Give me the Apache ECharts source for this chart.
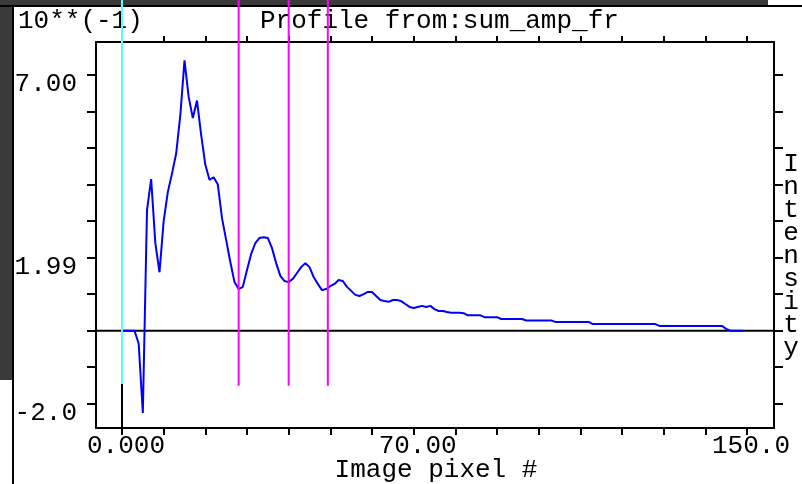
<!DOCTYPE html>
<html>
<head>
<meta charset="utf-8">
<script src="https://cdn.jsdelivr.net/npm/echarts@6/dist/echarts.min.js"></script>
<style>
  html, body { margin: 0; padding: 0; background: #ffffff; }
  #chart { width: 802px; height: 484px; }
</style>
</head>
<body>
<div id="chart"></div>
<script>
// ---- profile data (intensity in units of 10**(-1)), one value per image pixel from 0 ----
const intensity = [
  0, 0, 0, 0, -0.35, -2.25, 3.3, 4.15, 2.4, 1.6,
  3.0, 3.8, 4.3, 4.85, 5.9, 7.4, 6.4, 5.82, 6.3, 5.36,
  4.54, 4.13, 4.2, 4.0, 3.08, 2.48, 1.88, 1.33, 1.14, 1.2,
  1.66, 2.1, 2.4, 2.54, 2.56, 2.54, 2.26, 1.85, 1.5, 1.36,
  1.33, 1.42, 1.58, 1.74, 1.85, 1.74, 1.47, 1.28, 1.11, 1.14,
  1.22, 1.28, 1.39, 1.36, 1.2, 1.09, 0.98, 0.95, 1.0, 1.06,
  1.06, 0.95, 0.84, 0.81, 0.79, 0.84, 0.84, 0.81, 0.73, 0.65,
  0.62, 0.65, 0.68, 0.65, 0.68, 0.59, 0.54, 0.54, 0.51, 0.49,
  0.49, 0.49, 0.48, 0.42, 0.42, 0.42, 0.42, 0.37, 0.37, 0.37,
  0.37, 0.32, 0.32, 0.32, 0.32, 0.32, 0.32, 0.28, 0.28, 0.28,
  0.28, 0.28, 0.28, 0.28, 0.24, 0.24, 0.24, 0.24, 0.24, 0.24,
  0.24, 0.24, 0.24, 0.18, 0.18, 0.18, 0.18, 0.18, 0.18, 0.18,
  0.18, 0.18, 0.18, 0.18, 0.18, 0.18, 0.18, 0.18, 0.18, 0.13,
  0.13, 0.13, 0.13, 0.13, 0.13, 0.13, 0.13, 0.13, 0.13, 0.13,
  0.13, 0.13, 0.13, 0.13, 0.13, 0.05, 0, 0, 0, 0
];

// ---- axes ----
const xRange = [-6.24, 156.48];
const yRange = [-2.664, 7.903];
const xTickValues = [0, 10, 20, 30, 40, 50, 60, 70, 80, 90, 100, 110, 120, 130, 140, 150];
const xLabelValues = [0, 70, 150];
const xLabelTexts = ['0.000', '70.00', '150.0'];
const yTickValues = [-2, -1, 0, 1, 2, 3, 4, 5, 6, 7];
const yLabelValues = [7, 1.99, -2];
const yLabelTexts = ['7.00', '1.99', '-2.0'];

// ---- cursors: [pixel, lower end]; they run up to the window edge ----
const cursorTop = 9.6;
const cursors = [
  [0, -1.46],
  [28, -1.51],
  [40, -1.51],
  [49.4, -1.51]
];
const cursorColors = ['#55ffff', '#ff00ff', '#ff00ff', '#ff00ff'];

// ---- text ----
const scaleText = '10**(-1)';
const titleText = 'Profile from:sum_amp_fr';
const xName = 'Image pixel #';
const yName = 'Intensity';

const FONT = '"Liberation Mono", "DejaVu Sans Mono", monospace';
const FS = 26;

const chart = echarts.init(document.getElementById('chart'), null, { renderer: 'canvas' });

const tickStyle = { color: '#000', width: 2 };
const axisLineStyle = { color: '#000', width: 2 };

function lookup(values, texts, wrap) {
  return function (v) {
    for (let i = 0; i < values.length; i++) {
      if (Math.abs(values[i] - v) < 1e-6) return wrap ? '{v|' + texts[i] + '}' : texts[i];
    }
    return '';
  };
}

const option = {
  animation: false,
  backgroundColor: '#ffffff',
  grid: { left: 96, top: 42, width: 678, height: 386, show: false },
  xAxis: [
    {
      type: 'value', position: 'bottom', min: xRange[0], max: xRange[1],
      axisLine: { show: true, onZero: false, lineStyle: axisLineStyle },
      axisTick: { show: true, length: 7, customValues: xTickValues, lineStyle: tickStyle },
      axisLabel: {
        show: true, customValues: xLabelValues, formatter: lookup(xLabelValues, xLabelTexts, false),
        fontFamily: FONT, fontSize: FS, color: '#000', margin: 5,
        verticalAlign: 'top', padding: [0, 0, 0, 8]
      },
      splitLine: { show: false }
    },
    {
      type: 'value', position: 'top', min: xRange[0], max: xRange[1],
      axisLine: { show: true, onZero: false, lineStyle: axisLineStyle },
      axisTick: { show: true, length: 6, customValues: xTickValues, lineStyle: tickStyle },
      axisLabel: { show: false },
      splitLine: { show: false }
    }
  ],
  yAxis: [
    {
      type: 'value', position: 'left', min: yRange[0], max: yRange[1],
      axisLine: { show: true, onZero: false, lineStyle: axisLineStyle },
      axisTick: { show: true, length: 9, customValues: yTickValues, lineStyle: tickStyle },
      axisLabel: {
        show: true, customValues: yLabelValues, formatter: lookup(yLabelValues, yLabelTexts, true),
        fontFamily: FONT, fontSize: FS, color: '#000', margin: 19,
        align: 'right', verticalAlign: 'middle',
        rich: { v: { fontFamily: FONT, fontSize: FS, color: '#000', padding: [18, 0, 0, 0] } }
      },
      splitLine: { show: false }
    },
    {
      type: 'value', position: 'right', min: yRange[0], max: yRange[1],
      axisLine: { show: true, onZero: false, lineStyle: axisLineStyle },
      axisTick: { show: true, length: 9, customValues: yTickValues, lineStyle: tickStyle },
      axisLabel: { show: false },
      splitLine: { show: false }
    }
  ],
  graphic: [
    // window frame
    { type: 'rect', z: 0, shape: { x: 0, y: 0, width: 768, height: 5 }, style: { fill: '#3a3a3a' } },
    { type: 'rect', z: 0, shape: { x: 0, y: 0, width: 12, height: 380 }, style: { fill: '#3a3a3a' } },
    { type: 'rect', z: 0, shape: { x: 0, y: 5, width: 802, height: 2 }, style: { fill: '#000' } },
    { type: 'rect', z: 0, shape: { x: 12, y: 5, width: 2, height: 479 }, style: { fill: '#000' } },
    // captions
    { type: 'text', z: 1, x: 18, y: 8, style: { text: scaleText, font: FS + 'px ' + FONT, fill: '#000', verticalAlign: 'top' } },
    { type: 'text', z: 1, x: 260, y: 8, style: { text: titleText, font: FS + 'px ' + FONT, fill: '#000', verticalAlign: 'top' } },
    { type: 'text', z: 1, x: 436, y: 457, style: { text: xName, font: FS + 'px ' + FONT, fill: '#000', align: 'center', verticalAlign: 'top' } },
    { type: 'text', z: 1, x: 791, y: 153, style: { text: yName.split('').join('\n'), font: FS + 'px ' + FONT, lineHeight: 23, fill: '#000', align: 'center', verticalAlign: 'top' } }
  ],
  series: [
    {
      // zero level across the plot
      type: 'custom', z: 1, silent: true, clip: false,
      xAxisIndex: 0, yAxisIndex: 0,
      data: [[0]],
      renderItem: function (params, api) {
        const a = api.coord([xRange[0], 0]);
        const b = api.coord([xRange[1], 0]);
        return { type: 'line', shape: { x1: a[0], y1: a[1], x2: b[0], y2: b[1] }, style: { stroke: '#000', lineWidth: 2 } };
      }
    },
    {
      name: 'profile', type: 'line', z: 3,
      xAxisIndex: 0, yAxisIndex: 0,
      data: intensity.map(function (v, i) { return [i, v]; }),
      showSymbol: false, symbol: 'none', smooth: false,
      lineStyle: { color: '#0000ff', width: 2 }
    },
    {
      // cursor lines
      type: 'custom', z: 4, silent: true, clip: false,
      xAxisIndex: 0, yAxisIndex: 0,
      data: cursors,
      renderItem: function (params, api) {
        const x = api.value(0);
        const lower = api.value(1);
        const top = api.coord([x, cursorTop]);
        const bot = api.coord([x, lower]);
        const children = [
          { type: 'line', shape: { x1: top[0], y1: top[1], x2: bot[0], y2: bot[1] }, style: { stroke: cursorColors[params.dataIndex], lineWidth: 2 } }
        ];
        if (params.dataIndex === 0) {
          const floor = api.coord([x, yRange[0]]);
          children.push({ type: 'line', shape: { x1: bot[0], y1: bot[1], x2: floor[0], y2: floor[1] }, style: { stroke: '#000', lineWidth: 2 } });
        }
        return { type: 'group', children: children };
      }
    }
  ]
};

chart.setOption(option);
</script>
</body>
</html>
